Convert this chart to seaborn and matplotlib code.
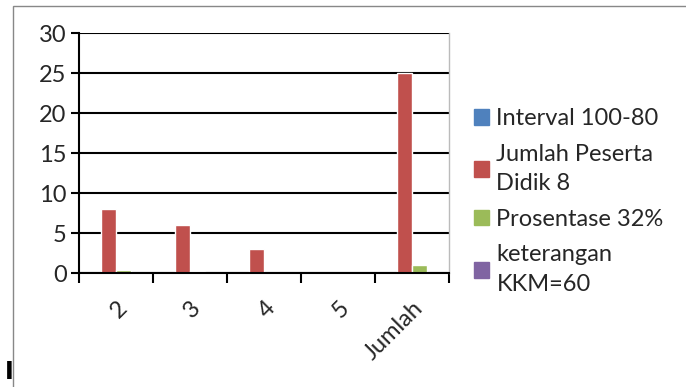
import pandas as pd
import numpy as np
import matplotlib.pyplot as plt
import seaborn as sns
from matplotlib.patches import Rectangle

# data
kategori = ['2', '3', '4', '5', 'Jumlah']
interval = [0, 0, 0, 0, 0]
jumlah_peserta = [8, 6, 3, 0, 25]
prosentase = [0.32, 0.24, 0.12, 0, 1]
keterangan = [0, 0, 0, 0, 0]
seri = ['Interval 100-80', 'Jumlah Peserta\nDidik 8', 'Prosentase 32%', 'keterangan\nKKM=60']
warna = ['#4F81BD', '#C0504D', '#9BBB59', '#8064A2']

df = pd.DataFrame({'kategori': kategori * 4,
                   'seri': np.repeat(seri, len(kategori)),
                   'nilai': interval + jumlah_peserta + prosentase + keterangan})

sns.set_style('white')
plt.rcParams['font.family'] = ['Lato', 'DejaVu Sans']

W, H = 686, 387
fig = plt.figure(figsize=(W / 100, H / 100), dpi=100)
ax = fig.add_axes([79 / W, 1 - 273 / H, (449 - 79) / W, (273 - 33) / H])

sns.barplot(data=df, x='kategori', y='nilai', hue='seri', order=kategori,
            hue_order=seri, palette=warna, width=0.8, ax=ax, legend=False,
            saturation=1)

ax.set_ylim(0, 30)
ax.set_xlim(-0.5, 4.5)
ax.set_yticks(range(0, 31, 5))
ax.yaxis.grid(True, color='black', lw=1.5)
ax.set_axisbelow(True)
ax.set_xlabel('')
ax.set_ylabel('')

for s in ['left', 'bottom']:
    ax.spines[s].set_color('black')
    ax.spines[s].set_linewidth(1.5)
ax.spines['top'].set_visible(False)
ax.spines['right'].set_color('#bbbbbb')
ax.spines['right'].set_linewidth(1)

ax.tick_params(axis='y', left=True, length=6, width=1.5, color='black',
               labelsize=17, pad=3)
ax.set_xticks(range(len(kategori)))
ax.set_xticklabels(kategori, rotation=45, ha='right', rotation_mode='anchor')
ax.tick_params(axis='x', which='major', bottom=False, labelsize=17, pad=14)
ax.set_xticks(np.arange(-0.5, 5, 1), minor=True)
ax.tick_params(axis='x', which='minor', bottom=True, length=7, width=1.5,
               color='black')

handles = [Rectangle((0, 0), 1, 1, color=c) for c in warna]
leg = fig.legend(handles, seri, loc='upper left', bbox_to_anchor=(474 / W, 1 - 108 / H),
                 frameon=False, fontsize=17, handlelength=0.65, handleheight=0.65,
                 handletextpad=0.3, labelspacing=0.62, borderpad=0, borderaxespad=0)
for t in leg.get_texts():
    t.set_linespacing(1.5)

# outer chart border
fig.patches.append(Rectangle((13 / W, -0.1), 1.2, 1.1 - 6 / H,
                             transform=fig.transFigure, fill=False,
                             edgecolor='#888888', lw=1))
fig.text(5 / W, 3 / H, 'I', fontsize=17, fontweight='bold', color='black',
         family='DejaVu Sans', va='bottom')

fig.savefig('out.png', dpi=100)
